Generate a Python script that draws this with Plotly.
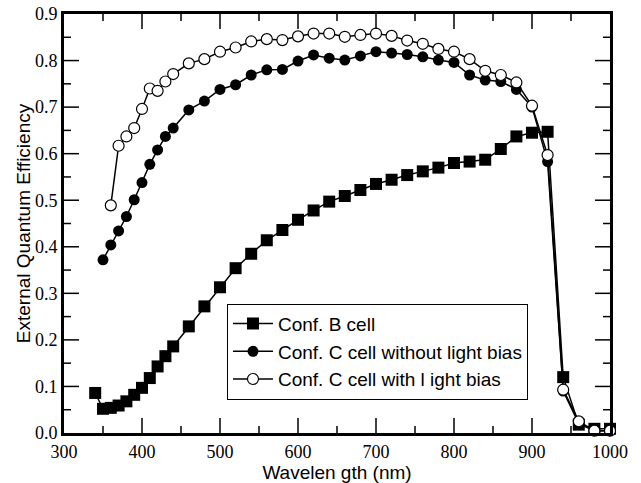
import plotly.graph_objects as go

# Wavelength grids (nm) and external quantum efficiency for each cell
wl_b = [340, 350, 360, 370, 380, 390, 400, 410, 420, 430, 440, 460, 480, 500,
        520, 540, 560, 580, 600, 620, 640, 660, 680, 700, 720, 740, 760, 780,
        800, 820, 840, 860, 880, 900, 920, 940, 960, 980, 1000]
eqe_b = [0.086, 0.052, 0.054, 0.059, 0.068, 0.082, 0.097, 0.118, 0.143, 0.165,
         0.186, 0.229, 0.272, 0.313, 0.354, 0.385, 0.414, 0.436, 0.458, 0.478,
         0.497, 0.509, 0.522, 0.535, 0.544, 0.554, 0.562, 0.570, 0.580, 0.583,
         0.587, 0.610, 0.637, 0.645, 0.647, 0.120, 0.018, 0.009, 0.009]

wl_c_dark = [350, 360, 370, 380, 390, 400, 410, 420, 430, 440, 460, 480, 500,
             520, 540, 560, 580, 600, 620, 640, 660, 680, 700, 720, 740, 760,
             780, 800, 820, 840, 860, 880, 900, 920, 940, 960, 980, 1000]
eqe_c_dark = [0.372, 0.404, 0.434, 0.465, 0.501, 0.538, 0.577, 0.608, 0.637,
              0.655, 0.694, 0.713, 0.738, 0.748, 0.769, 0.780, 0.781, 0.799,
              0.812, 0.805, 0.801, 0.810, 0.819, 0.816, 0.813, 0.808, 0.801,
              0.796, 0.769, 0.758, 0.755, 0.738, 0.700, 0.583, 0.090, 0.020,
              0.005, 0.005]

wl_c_bias = [360, 370, 380, 390, 400, 410, 420, 430, 440, 460, 480, 500, 520,
             540, 560, 580, 600, 620, 640, 660, 680, 700, 720, 740, 760, 780,
             800, 820, 840, 860, 880, 900, 920, 940, 960, 980, 1000]
eqe_c_bias = [0.489, 0.617, 0.637, 0.655, 0.696, 0.740, 0.735, 0.755, 0.771,
              0.794, 0.803, 0.819, 0.828, 0.841, 0.846, 0.844, 0.852, 0.858,
              0.858, 0.851, 0.855, 0.858, 0.853, 0.843, 0.836, 0.825, 0.819,
              0.803, 0.778, 0.769, 0.753, 0.703, 0.597, 0.093, 0.025, 0.005,
              0.005]

names = ["Conf. B cell",
         "Conf. C cell without light bias",
         "Conf. C cell with l ight bias"]

# axis ranges and tick positions
X_RANGE = [300, 1000]
Y_RANGE = [0, 0.9]
x_major = [400, 500, 600, 700, 800, 900]
x_minor = [350, 450, 550, 650, 750, 850, 950]
y_major = [0.1, 0.2, 0.3, 0.4, 0.5, 0.6, 0.7, 0.8]
y_minor = [0.05, 0.15, 0.25, 0.35, 0.45, 0.55, 0.65, 0.75, 0.85]

SERIF = "Liberation Serif"
SANS = "Liberation Sans"
MAJOR_LEN, MINOR_LEN = 15, 7

fig = go.Figure()
fig.add_trace(go.Scatter(
    x=wl_b, y=eqe_b, name=names[0], mode="lines+markers", cliponaxis=False,
    line=dict(color="black", width=1.5),
    marker=dict(symbol="square", size=12, color="black"),
))
fig.add_trace(go.Scatter(
    x=wl_c_dark, y=eqe_c_dark, name=names[1], mode="lines+markers",
    cliponaxis=False,
    line=dict(color="black", width=1.5),
    marker=dict(symbol="circle", size=11, color="black"),
))
fig.add_trace(go.Scatter(
    x=wl_c_bias, y=eqe_c_bias, name=names[2], mode="lines+markers",
    cliponaxis=False,
    line=dict(color="black", width=1.5),
    marker=dict(symbol="circle", size=11, color="white",
                line=dict(color="black", width=1.2)),
))

# inward tick marks on all four sides of the frame
tick_line = dict(color="black", width=1.5)
shapes = []
for vals, length in ((x_major, MAJOR_LEN), (x_minor, MINOR_LEN)):
    for v in vals:
        shapes.append(dict(type="line", xref="x", yref="y", x0=v, x1=v,
                           ysizemode="pixel", yanchor=Y_RANGE[0],
                           y0=0, y1=length, line=tick_line))
        shapes.append(dict(type="line", xref="x", yref="y", x0=v, x1=v,
                           ysizemode="pixel", yanchor=Y_RANGE[1],
                           y0=0, y1=-length, line=tick_line))
for vals, length in ((y_major, MAJOR_LEN), (y_minor, MINOR_LEN)):
    for v in vals:
        shapes.append(dict(type="line", xref="x", yref="y", y0=v, y1=v,
                           xsizemode="pixel", xanchor=X_RANGE[0],
                           x0=0, x1=length, line=tick_line))
        shapes.append(dict(type="line", xref="x", yref="y", y0=v, y1=v,
                           xsizemode="pixel", xanchor=X_RANGE[1],
                           x0=0, x1=-length, line=tick_line))

xaxis = dict(
    range=X_RANGE, tickmode="linear", tick0=300, dtick=100, ticks="",
    showline=True, linewidth=3, linecolor="black", mirror=True,
    showgrid=False, zeroline=False,
    tickfont=dict(family=SERIF, size=18, color="black"),
    title=dict(text="Wavelen gth (nm)", standoff=2,
               font=dict(family=SANS, size=19, color="black")),
)
yaxis = dict(
    range=Y_RANGE, tickmode="linear", tick0=0, dtick=0.1, tickformat=".1f",
    ticks="",
    showline=True, linewidth=3, linecolor="black", mirror=True,
    showgrid=False, zeroline=False,
    tickfont=dict(family=SERIF, size=18, color="black"),
    title=dict(text="External Quantum Efficiency", standoff=0,
               font=dict(family=SANS, size=19, color="black")),
)

fig.update_layout(
    template="none",
    width=641, height=483,
    margin=dict(l=64, r=31, t=14, b=50),
    paper_bgcolor="white", plot_bgcolor="white",
    xaxis=xaxis, yaxis=yaxis,
    shapes=shapes,
    showlegend=True,
    legend=dict(
        x=0.2985, y=0.3085, xanchor="left", yanchor="top",
        bgcolor="white", bordercolor="black", borderwidth=1,
        itemwidth=40,
        font=dict(family=SANS, size=19, color="black"),
    ),
)

fig.write_html("out.html")
